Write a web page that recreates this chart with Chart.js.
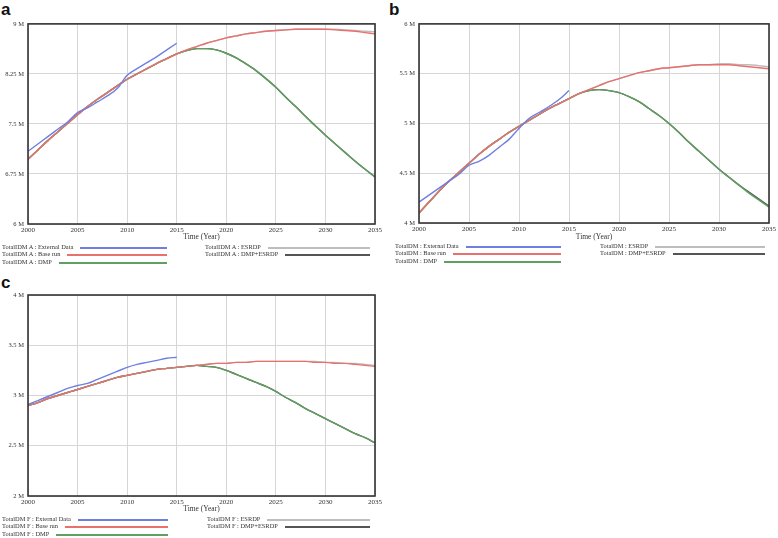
<!DOCTYPE html>
<html>
<head>
<meta charset="utf-8">
<script src="https://cdn.jsdelivr.net/npm/chart.js@4.4.1/dist/chart.umd.min.js"></script>
<style>
  body { margin: 0; background: #fff; width: 778px; height: 538px; position: relative; overflow: hidden; }
  .box { position: absolute; }
  .tag { position: absolute; font: bold 17px "Liberation Sans", Arial, sans-serif; color: #111; line-height: 1; }
  .leg { position: absolute; font: 6.4px "Liberation Serif", "Times New Roman", serif; line-height: 8px; color: #333; white-space: nowrap; }
  .ln { position: absolute; height: 1.5px; }
</style>
</head>
<body>
<div class="tag" style="left:1px;top:1px">a</div>
<div class="tag" style="left:389px;top:1px">b</div>
<div class="tag" style="left:1px;top:274px">c</div>

<div class="box" style="left:0;top:16px;width:385px;height:228px"><canvas id="chartA"></canvas></div>
<div class="box" style="left:388px;top:16px;width:390px;height:228px"><canvas id="chartB"></canvas></div>
<div class="box" style="left:0;top:284px;width:385px;height:232px"><canvas id="chartC"></canvas></div>

<script>
// années (axe x)
const years = [2000,2001,2002,2003,2004,2005,2006,2007,2008,2009,2010,2011,2012,2013,2014,2015,2016,2017,2018,2019,2020,2021,2022,2023,2024,2025,2026,2027,2028,2029,2030,2031,2032,2033,2034,2035];
const yearsData = [2000,2001,2002,2003,2004,2005,2006,2007,2008,2009,2010,2011,2012,2013,2014,2015];
const xTicks = [2000,2005,2010,2015,2020,2025,2030,2035];

const seriesNames = ['External Data', 'Base run', 'DMP', 'ESRDP', 'DMP+ESRDP'];
const seriesColors = ['#6f7fe0', '#e8716e', '#5f9f5f', '#bdbdbd', '#555555'];

// Panel a (millions)
const aTicks = [6, 6.75, 7.5, 8.25, 9];
const aExternal = [7.09,7.20,7.31,7.42,7.53,7.67,7.74,7.83,7.92,8.03,8.23,8.33,8.42,8.51,8.61,8.71];
const aBase = [6.97,7.11,7.25,7.38,7.51,7.64,7.76,7.87,7.97,8.07,8.17,8.25,8.33,8.41,8.48,8.55,8.61,8.66,8.71,8.75,8.79,8.82,8.85,8.87,8.89,8.90,8.91,8.92,8.92,8.92,8.92,8.91,8.90,8.89,8.87,8.85];
const aDMP = [6.97,7.11,7.25,7.38,7.51,7.64,7.76,7.87,7.97,8.07,8.17,8.25,8.33,8.41,8.48,8.55,8.60,8.63,8.63,8.61,8.56,8.49,8.40,8.30,8.18,8.05,7.90,7.76,7.61,7.47,7.33,7.20,7.07,6.94,6.82,6.70];
const aESRDP = [6.97,7.11,7.25,7.38,7.51,7.64,7.76,7.87,7.97,8.07,8.17,8.25,8.33,8.41,8.48,8.55,8.61,8.66,8.71,8.75,8.79,8.82,8.85,8.87,8.89,8.90,8.91,8.92,8.92,8.92,8.92,8.92,8.91,8.90,8.89,8.88];
const aDMPESRDP = [6.97,7.11,7.25,7.38,7.51,7.64,7.76,7.87,7.97,8.07,8.17,8.25,8.33,8.41,8.48,8.55,8.60,8.63,8.63,8.61,8.56,8.49,8.40,8.30,8.18,8.05,7.90,7.76,7.61,7.47,7.33,7.20,7.07,6.94,6.82,6.71];

// Panel b
const bTicks = [4, 4.5, 5, 5.5, 6];
const bExternal = [4.21,4.28,4.35,4.42,4.49,4.58,4.62,4.68,4.76,4.84,4.95,5.05,5.11,5.17,5.24,5.33];
const bBase = [4.10,4.21,4.32,4.42,4.51,4.60,4.69,4.77,4.84,4.91,4.97,5.03,5.09,5.15,5.20,5.25,5.30,5.34,5.38,5.42,5.45,5.48,5.51,5.53,5.55,5.56,5.57,5.58,5.59,5.59,5.59,5.59,5.58,5.57,5.56,5.55];
const bDMP = [4.10,4.21,4.32,4.42,4.51,4.60,4.69,4.77,4.84,4.91,4.97,5.03,5.09,5.15,5.20,5.25,5.30,5.33,5.34,5.33,5.31,5.27,5.22,5.15,5.08,5.00,4.91,4.81,4.72,4.63,4.54,4.46,4.38,4.30,4.23,4.16];
const bESRDP = [4.10,4.21,4.32,4.42,4.51,4.60,4.69,4.77,4.84,4.91,4.97,5.03,5.09,5.15,5.20,5.25,5.30,5.34,5.38,5.42,5.45,5.48,5.51,5.53,5.55,5.56,5.57,5.58,5.59,5.59,5.60,5.60,5.59,5.59,5.58,5.57];
const bDMPESRDP = [4.10,4.21,4.32,4.42,4.51,4.60,4.69,4.77,4.84,4.91,4.97,5.03,5.09,5.15,5.20,5.25,5.30,5.33,5.34,5.33,5.31,5.27,5.22,5.15,5.08,5.00,4.91,4.81,4.72,4.63,4.54,4.46,4.38,4.31,4.24,4.17];

// Panel c
const cTicks = [2, 2.5, 3, 3.5, 4];
const cExternal = [2.91,2.95,2.99,3.03,3.07,3.10,3.12,3.16,3.20,3.24,3.28,3.31,3.33,3.35,3.37,3.38];
const cBase = [2.90,2.93,2.97,3.00,3.03,3.06,3.09,3.12,3.15,3.18,3.20,3.22,3.24,3.26,3.27,3.28,3.29,3.30,3.31,3.32,3.32,3.33,3.33,3.34,3.34,3.34,3.34,3.34,3.34,3.33,3.33,3.32,3.32,3.31,3.30,3.29];
const cDMP = [2.90,2.93,2.97,3.00,3.03,3.06,3.09,3.12,3.15,3.18,3.20,3.22,3.24,3.26,3.27,3.28,3.29,3.30,3.29,3.28,3.25,3.21,3.17,3.13,3.09,3.04,2.98,2.93,2.87,2.82,2.77,2.72,2.67,2.62,2.58,2.53];
const cESRDP = [2.90,2.93,2.97,3.00,3.03,3.06,3.09,3.12,3.15,3.18,3.20,3.22,3.24,3.26,3.27,3.28,3.29,3.30,3.31,3.32,3.32,3.33,3.33,3.34,3.34,3.34,3.34,3.34,3.34,3.34,3.33,3.33,3.32,3.32,3.31,3.30];
const cDMPESRDP = [2.90,2.93,2.97,3.00,3.03,3.06,3.09,3.12,3.15,3.18,3.20,3.22,3.24,3.26,3.27,3.28,3.29,3.30,3.29,3.28,3.25,3.21,3.17,3.13,3.09,3.04,2.98,2.93,2.87,2.82,2.77,2.72,2.67,2.62,2.58,2.53];

const serif = '"Liberation Serif", "Times New Roman", serif';

// cadre noir autour de la zone de tracé
const framePlugin = {
    id: 'frame',
    afterDraw(chart) {
        const a = chart.chartArea;
        const ctx = chart.ctx;
        ctx.save();
        ctx.strokeStyle = '#333';
        ctx.lineWidth = 1.6;
        ctx.strokeRect(a.left, a.top, a.right - a.left, a.bottom - a.top);
        ctx.restore();
    }
};

function pts(xs, ys) {
    return ys.map((v, i) => ({ x: xs[i], y: v }));
}

function makePanel(id, ticks, series, yWidth, padTop, padRight, xHeight) {
    const datasets = series.map((s, i) => ({
        label: seriesNames[i],
        data: pts(i === 0 ? yearsData : years, s),
        borderColor: seriesColors[i],
        borderWidth: 1.4,
        pointRadius: 0,
        cubicInterpolationMode: 'monotone',
        fill: false
    }));
    return new Chart(document.getElementById(id), {
        type: 'line',
        data: { datasets: datasets },
        options: {
            responsive: true,
            maintainAspectRatio: false,
            animation: false,
            layout: { padding: { top: padTop, right: padRight, left: 0, bottom: 0 } },
            plugins: { legend: { display: false }, tooltip: { enabled: false } },
            scales: {
                x: {
                    type: 'linear',
                    min: 2000, max: 2035,
                    afterBuildTicks: sc => { sc.ticks = xTicks.map(v => ({ value: v })); },
                    afterFit: sc => { sc.height = xHeight; },
                    grid: { color: '#d6d6d6', lineWidth: 1, drawTicks: false },
                    border: { display: false },
                    ticks: { padding: 2, maxRotation: 0, autoSkip: false, color: '#333',
                             font: { family: serif, size: 7 }, callback: v => String(v) },
                    title: { display: true, text: 'Time (Year)', color: '#333',
                             font: { family: serif, size: 7.5 }, padding: { top: 0, bottom: 2 } }
                },
                y: {
                    min: ticks[0], max: ticks[ticks.length - 1],
                    afterBuildTicks: sc => { sc.ticks = ticks.map(v => ({ value: v })); },
                    afterFit: sc => { sc.width = yWidth; },
                    grid: { color: '#d6d6d6', lineWidth: 1, drawTicks: false },
                    border: { display: false },
                    ticks: { padding: 4, color: '#333', font: { family: serif, size: 6.5 },
                             callback: v => v + ' M' }
                }
            }
        },
        plugins: [framePlugin]
    });
}

makePanel('chartA', aTicks, [aExternal, aBase, aDMP, aESRDP, aDMPESRDP], 28, 4, 10, 20);
makePanel('chartB', bTicks, [bExternal, bBase, bDMP, bESRDP, bDMPESRDP], 31, 4, 8, 21);
makePanel('chartC', cTicks, [cExternal, cBase, cDMP, cESRDP, cDMPESRDP], 28, 11, 10, 20);

// légendes : texte puis trait qui finit à une position fixe
function makeLegend(prefix, left, tops, end1, col2Left, end2) {
    const order = [[0, 0, 0], [1, 0, 1], [2, 0, 2], [3, 1, 0], [4, 1, 1]];
    order.forEach(([i, col, row]) => {
        const x0 = col === 0 ? left : col2Left;
        const x1 = col === 0 ? end1 : end2;
        const d = document.createElement('div');
        d.className = 'leg';
        d.style.left = x0 + 'px';
        d.style.top = tops[row] + 'px';
        d.textContent = prefix + ' : ' + seriesNames[i];
        document.body.appendChild(d);
        const start = x0 + d.offsetWidth + 7;
        const ln = document.createElement('div');
        ln.className = 'ln';
        ln.style.left = start + 'px';
        ln.style.width = (x1 - start) + 'px';
        ln.style.top = (tops[row] + 4) + 'px';
        ln.style.background = seriesColors[i];
        document.body.appendChild(ln);
    });
}

makeLegend('TotalIDM A', 2, [243, 250, 258], 167, 205, 370);
makeLegend('TotalDM', 395, [242, 249, 257], 561, 600, 765);
makeLegend('TotalDM F', 2, [515, 522, 530], 168, 207, 370);
</script>
</body>
</html>
